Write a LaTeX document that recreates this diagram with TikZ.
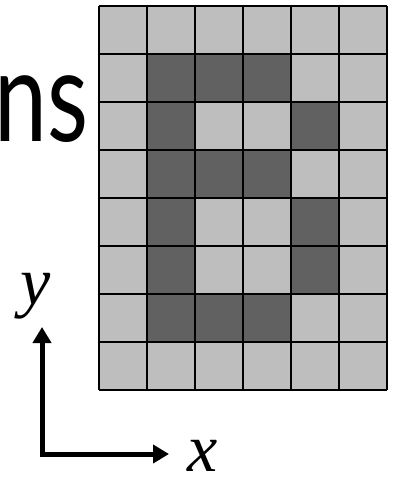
\documentclass[tikz,border=0pt]{standalone}
\usepackage{fontspec}
\setmainfont{Liberation Serif}
\newfontfamily\titlefont{Lato}
\usetikzlibrary{arrows.meta}
\definecolor{cellLight}{RGB}{190,190,190}
\definecolor{cellDark}{RGB}{97,97,97}
\tikzset{
  gridline/.style={line width=1.6bp, black},
  axisline/.style={line width=5bp, black, line join=miter,
    {Triangle[width=18bp,length=16bp]}-{Triangle[width=18bp,length=16bp]}},
  axislabel/.style={font=\fontsize{68bp}{68bp}\selectfont\itshape, inner sep=0pt},
}
\begin{document}
\begin{tikzpicture}[x=1bp,y=-1bp]
\useasboundingbox (0,0) rectangle (395,477);
\begin{scope}
\clip (0,0) rectangle (395,477);
\node[anchor=base west, inner sep=0pt, xscale=0.74, font=\titlefont\fontsize{128bp}{128bp}\selectfont] (title) at (-6,142) {ns};
\end{scope}
% grid cells
\def\cw{48}
\foreach \r in {0,...,7}{
  \foreach \c in {0,...,5}{
    \fill[cellLight] (99+\c*\cw,6+\r*\cw) rectangle ++(\cw,\cw);
  }
}
\foreach \r/\c in {1/1,1/2,1/3,2/1,2/4,3/1,3/2,3/3,4/1,4/4,5/1,5/4,6/1,6/2,6/3}{
  \fill[cellDark] (99+\c*\cw,6+\r*\cw) rectangle ++(\cw,\cw);
}
\foreach \c in {0,...,6}{
  \draw[gridline] (99+\c*\cw,6) -- (99+\c*\cw,390);
}
\foreach \r in {0,...,8}{
  \draw[gridline] (99,6+\r*\cw) -- (387,6+\r*\cw);
}
% axes
\coordinate (origin) at (42,454);
\coordinate (ytip) at (42,327);
\coordinate (xtip) at (169,454);
\draw[axisline] (ytip) -- (origin) -- (xtip);
\node[axislabel, anchor=base] (ylab) at (36,304) {y};
\node[axislabel, anchor=base] (xlab) at (203,471) {x};
\end{tikzpicture}
\end{document}
